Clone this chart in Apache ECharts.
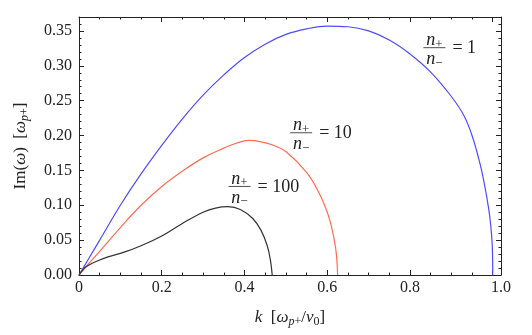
<!DOCTYPE html>
<html>
<head>
<meta charset="utf-8">
<script src="https://cdn.jsdelivr.net/npm/echarts@6/dist/echarts.min.js"></script>
<style>
html, body { margin: 0; padding: 0; background: #fff; }
#main { width: 532px; height: 335px; }
</style>
</head>
<body>
<div id="main"></div>
<script>
// n+/n- = 1
var blueK = [0, 0.02, 0.05, 0.1, 0.15, 0.2, 0.25, 0.3, 0.35, 0.4, 0.45, 0.5, 0.55, 0.6, 0.65, 0.7, 0.75, 0.8, 0.85, 0.9, 0.93, 0.95, 0.97, 0.98, 0.99, 0.995, 0.999, 1.0];
var blueV = [0, 0.02, 0.05, 0.1, 0.145, 0.186, 0.224, 0.258, 0.287, 0.312, 0.331, 0.345, 0.353, 0.357, 0.356, 0.35, 0.337, 0.317, 0.291, 0.256, 0.229, 0.2, 0.158, 0.13, 0.096, 0.072, 0.04, 0];
// n+/n- = 10
var redK = [0, 0.02, 0.05, 0.1, 0.15, 0.2, 0.25, 0.3, 0.35, 0.38, 0.41, 0.44, 0.47, 0.5, 0.55, 0.58, 0.6, 0.61, 0.62, 0.624, 0.625];
var redV = [0, 0.014, 0.034, 0.068, 0.1, 0.127, 0.149, 0.168, 0.182, 0.189, 0.193, 0.191, 0.186, 0.177, 0.147, 0.118, 0.09, 0.07, 0.04, 0.015, 0];
// n+/n- = 100
var blackK = [0, 0.01, 0.02, 0.04, 0.07, 0.1, 0.15, 0.2, 0.25, 0.3, 0.33, 0.36, 0.39, 0.42, 0.44, 0.455, 0.463, 0.467];
var blackV = [0, 0.008, 0.013, 0.019, 0.026, 0.031, 0.042, 0.056, 0.074, 0.09, 0.096, 0.098, 0.094, 0.081, 0.064, 0.042, 0.02, 0];

var ratios = ['1', '10', '100'];
// where the fraction bar of each label sits, in data units
var labelAt = [[0.859, 0.326], [0.537, 0.204], [0.388, 0.127]];

var serif = 'Liberation Serif';
var ink = '#222';

function pairs(xs, ys) {
  var out = [];
  for (var i = 0; i < xs.length; i++) out.push([xs[i], ys[i]]);
  return out;
}

// main glyphs sit in the middle of a 20px line, subscripts hang from its bottom
function richSet(big, small) {
  return {
    it: { fontFamily: serif, fontStyle: 'italic', fontSize: big, lineHeight: 20, color: ink, fill: ink },
    rm: { fontFamily: serif, fontSize: big, lineHeight: 20, color: ink, fill: ink },
    subi: { fontFamily: serif, fontStyle: 'italic', fontSize: small, lineHeight: 20, verticalAlign: 'bottom', color: ink, fill: ink },
    sub: { fontFamily: serif, fontSize: small, lineHeight: 20, verticalAlign: 'bottom', color: ink, fill: ink }
  };
}
var axisRich = richSet(17, 12);
var fracRich = richSet(18, 13);

function xAx(pos) {
  return {
    type: 'value',
    position: pos,
    min: 0,
    max: 1.02,
    interval: 0.2,
    axisLine: { show: true, onZero: false, lineStyle: { color: ink, width: 1 } },
    axisTick: { show: true, inside: true, length: 5, lineStyle: { color: ink } },
    minorTick: { show: true, splitNumber: 4, length: 2.5, lineStyle: { color: ink } },
    splitLine: { show: false },
    axisLabel: {
      show: pos === 'bottom',
      margin: 5,
      fontFamily: serif,
      fontSize: 16,
      color: ink,
      formatter: function (v) {
        if (v === 0) return '0';
        if (Math.abs(v - 1) < 1e-6) return '';
        if (v > 1) return '1.0';
        return v.toFixed(1);
      }
    }
  };
}

function yAx(pos) {
  return {
    type: 'value',
    position: pos,
    min: 0,
    max: 0.37,
    interval: 0.05,
    axisLine: { show: true, onZero: false, lineStyle: { color: ink, width: 1 } },
    axisTick: { show: true, inside: true, length: 5, lineStyle: { color: ink } },
    minorTick: { show: true, splitNumber: 5, length: 2.5, lineStyle: { color: ink } },
    splitLine: { show: false },
    axisLabel: {
      show: pos === 'left',
      margin: 7,
      showMaxLabel: false,
      fontFamily: serif,
      fontSize: 16,
      color: ink,
      formatter: function (v) { return v.toFixed(2); }
    }
  };
}

var chart = echarts.init(document.getElementById('main'), null, { renderer: 'canvas' });

var xBottom = xAx('bottom');
xBottom.name = '{it|k}{rm|  [}{it|ω}{subi|p}{sub|+}{rm|/}{it|v}{sub|0}{rm|]}';
xBottom.nameLocation = 'middle';
xBottom.nameGap = 33;
xBottom.nameTextStyle = { rich: axisRich };

var yLeft = yAx('left');
yLeft.name = '{rm|Im(}{it|ω}{rm|)  [}{it|ω}{subi|p}{sub|+}{rm|]}';
yLeft.nameLocation = 'middle';
yLeft.nameGap = 48;
yLeft.nameTextStyle = { rich: axisRich };

function curve(name, xs, ys, color) {
  return {
    name: name,
    type: 'line',
    data: pairs(xs, ys),
    showSymbol: false,
    smooth: 0.4,
    lineStyle: { color: color, width: 1.2 },
    itemStyle: { color: color },
    silent: true
  };
}

chart.setOption({
  animation: false,
  backgroundColor: '#fff',
  grid: { left: 79, right: 31, top: 17, bottom: 60, containLabel: false, outerBoundsMode: 'none' },
  xAxis: [xBottom, xAx('top')],
  yAxis: [yLeft, yAx('right')],
  series: [
    curve('1', blueK, blueV, '#4d4dff'),
    curve('10', redK, redV, '#ff6b55'),
    curve('100', blackK, blackV, '#333333')
  ]
});

function fracLabel(at, value) {
  var p = chart.convertToPixel({ gridIndex: 0 }, at);
  return {
    type: 'group',
    x: p[0],
    y: p[1],
    silent: true,
    children: [
      { type: 'text', x: 0, y: -17, style: { text: '{it|n}{sub|+}', rich: fracRich, align: 'center', verticalAlign: 'top' } },
      { type: 'line', shape: { x1: -11, y1: 0, x2: 11, y2: 0 }, style: { stroke: ink, lineWidth: 0.8 } },
      { type: 'text', x: 0, y: 2, style: { text: '{it|n}{sub|−}', rich: fracRich, align: 'center', verticalAlign: 'top' } },
      { type: 'text', x: 18, y: 1, style: { text: '= ' + value, fontFamily: serif, fontSize: 18, fill: ink, align: 'left', verticalAlign: 'middle' } }
    ]
  };
}

var labels = [];
for (var i = 0; i < ratios.length; i++) labels.push(fracLabel(labelAt[i], ratios[i]));
chart.setOption({ graphic: labels });
</script>
</body>
</html>
